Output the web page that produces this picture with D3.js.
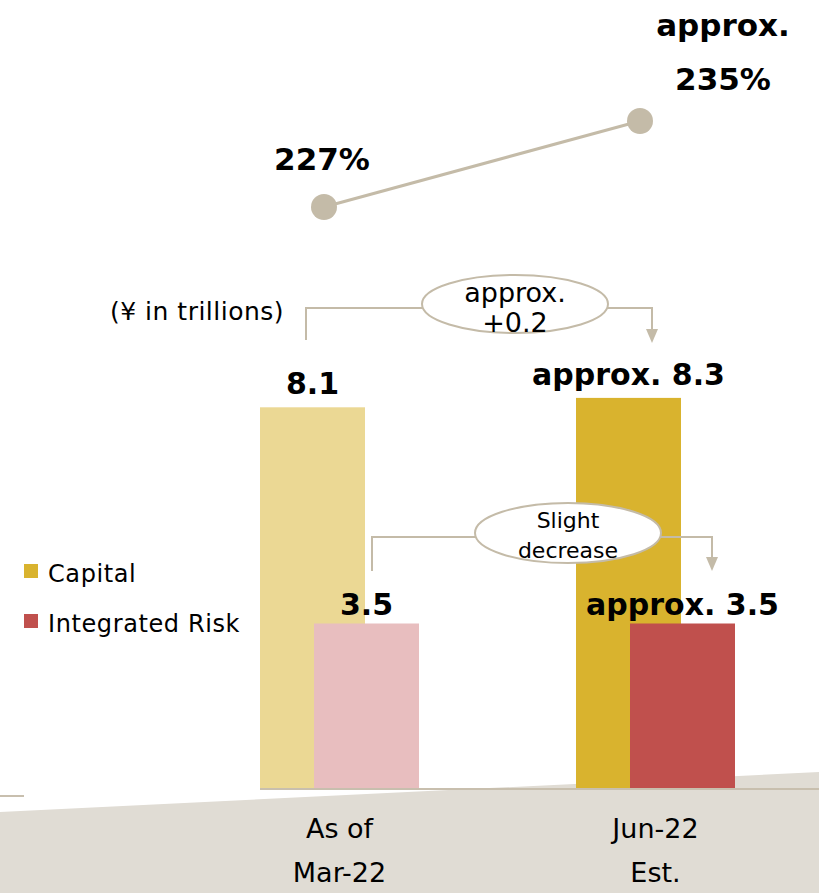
<!DOCTYPE html>
<html>
<head>
<meta charset="utf-8">
<script src="https://cdn.jsdelivr.net/npm/d3@7"></script>
<style>
  body { margin: 0; background: #fff; }
  svg { display: block; font-family: "DejaVu Sans", Verdana, sans-serif; }
</style>
</head>
<body>
<div id="container"></div>
<script>
var width = 819;
var height = 893;

// data
var periods = [["As of", "Mar-22"], ["Jun-22", "Est."]];
var capital = [8.1, 8.3];
var risk = [3.5, 3.5];
var esr = [227, 235];
var capitalLabels = ["8.1", "approx. 8.3"];
var riskLabels = ["3.5", "approx. 3.5"];
var esrLabels = [["227%"], ["approx.", "235%"]];
var capitalColors = ["#ebd894", "#d9b32e"];
var riskColors = ["#e8bebf", "#c0504d"];
var changeNotes = [["approx.", "+0.2"], ["Slight", "decrease"]];

var svg = d3.select('div#container')
  .append('svg')
  .attr('width', width)
  .attr('height', height);

// bottom band
svg.append('polygon')
  .attr('points', "0,812 819,772 819,893 0,893")
  .attr('fill', '#e0dcd4');

var x = d3.scaleBand().domain([0, 1]).range([260, 892]).paddingInner(0).paddingOuter(0);
var barW = 105, riskOff = 54;
var y = d3.scaleLinear().domain([0, 10]).range([788, 318]);
var yEsr = d3.scaleLinear().domain([227, 235]).range([207, 121]);

// baseline
svg.append('line')
  .attr('x1', 260).attr('x2', width).attr('y1', 789).attr('y2', 789)
  .attr('stroke', '#c8bfae').attr('stroke-width', 2);
svg.append('line')
  .attr('x1', 0).attr('x2', 24).attr('y1', 796).attr('y2', 796)
  .attr('stroke', '#c8bfae').attr('stroke-width', 2);

// capital bars
svg.selectAll('rect.cap')
  .data(capital)
  .enter()
  .append('rect')
  .attr('class', 'cap')
  .attr('x', function(d, i){ return x(i); })
  .attr('y', function(d){ return y(d); })
  .attr('width', barW)
  .attr('height', function(d){ return y(0) - y(d); })
  .attr('fill', function(d, i){ return capitalColors[i]; });

// risk bars
svg.selectAll('rect.risk')
  .data(risk)
  .enter()
  .append('rect')
  .attr('class', 'risk')
  .attr('x', function(d, i){ return x(i) + riskOff; })
  .attr('y', function(d){ return y(d); })
  .attr('width', barW)
  .attr('height', function(d){ return y(0) - y(d); })
  .attr('fill', function(d, i){ return riskColors[i]; });

// value labels
svg.selectAll('text.capl')
  .data(capitalLabels)
  .enter()
  .append('text')
  .attr('x', function(d, i){ return x(i) + barW / 2; })
  .attr('y', function(d, i){ return y(capital[i]) - 13; })
  .attr('text-anchor', 'middle')
  .attr('font-weight', 'bold')
  .attr('font-size', 30)
  .text(function(d){ return d; });

svg.selectAll('text.riskl')
  .data(riskLabels)
  .enter()
  .append('text')
  .attr('x', function(d, i){ return x(i) + riskOff + barW / 2; })
  .attr('y', function(d, i){ return y(risk[i]) - 9; })
  .attr('text-anchor', 'middle')
  .attr('font-weight', 'bold')
  .attr('font-size', 30)
  .text(function(d){ return d; });

// ESR line
var esrX = function(i){ return x(i) + 64; };
svg.append('path')
  .datum(esr)
  .attr('d', d3.line().x(function(d, i){ return esrX(i); }).y(function(d){ return yEsr(d); }))
  .attr('stroke', '#c4bba8')
  .attr('stroke-width', 3)
  .attr('fill', 'none');
svg.selectAll('circle.esr')
  .data(esr)
  .enter()
  .append('circle')
  .attr('cx', function(d, i){ return esrX(i); })
  .attr('cy', function(d){ return yEsr(d); })
  .attr('r', 13)
  .attr('fill', '#c4bba8');

var esrLabelDx = [-2, 83];
var esrLabelDy = [-37, -85];
esrLabels.forEach(function(lines, i){
  var t = svg.append('text')
    .attr('text-anchor', 'middle')
    .attr('font-weight', 'bold')
    .attr('font-size', 31);
  lines.forEach(function(l, j){
    t.append('tspan')
      .attr('x', esrX(i) + esrLabelDx[i])
      .attr('y', yEsr(esr[i]) + esrLabelDy[i] + j * 54)
      .text(l);
  });
});

// unit label
svg.append('text')
  .attr('x', 110).attr('y', 320)
  .attr('font-size', 25)
  .attr('letter-spacing', 0.5)
  .text('(\u00a5 in trillions)');

// change brackets
var brackets = [
  { x1: x(0) + 46, x2: x(1) + 76, top: 308, bottom1: 340, bottom2: 343, ex: 515, ey: 304, rx: 93, ry: 29, fs: 27, b0: 302 },
  { x1: x(0) + riskOff + 58, x2: x(1) + riskOff + 82, top: 537, bottom1: 571, bottom2: 571, ex: 568, ey: 533, rx: 93, ry: 30, fs: 22, b0: 528 }
];
brackets.forEach(function(b, i){
  var g = svg.append('g');
  g.append('path')
    .attr('d', 'M' + b.x1 + ',' + b.bottom1 + 'V' + b.top + 'H' + b.x2 + 'V' + (b.bottom2 - 12))
    .attr('stroke', '#c4bba8').attr('stroke-width', 2).attr('fill', 'none');
  g.append('path')
    .attr('d', 'M' + (b.x2 - 6) + ',' + (b.bottom2 - 14) + 'L' + (b.x2 + 6) + ',' + (b.bottom2 - 14) + 'L' + b.x2 + ',' + b.bottom2 + 'Z')
    .attr('fill', '#c4bba8');
  g.append('ellipse')
    .attr('cx', b.ex).attr('cy', b.ey).attr('rx', b.rx).attr('ry', b.ry)
    .attr('fill', '#fff').attr('stroke', '#c4bba8').attr('stroke-width', 2);
  var t = g.append('text').attr('text-anchor', 'middle').attr('font-size', b.fs);
  changeNotes[i].forEach(function(l, j){
    t.append('tspan')
      .attr('x', b.ex)
      .attr('y', b.b0 + j * 30)
      .text(l);
  });
});

// legend
var legend = [["Capital", capitalColors[1]], ["Integrated Risk", riskColors[1]]];
legend.forEach(function(d, i){
  svg.append('rect')
    .attr('x', 24).attr('y', 564 + i * 50)
    .attr('width', 14).attr('height', 14)
    .attr('fill', d[1]);
  svg.append('text')
    .attr('x', 48).attr('y', 582 + i * 50)
    .attr('font-size', 24)
    .attr('letter-spacing', 0.6)
    .text(d[0]);
});

// category labels
periods.forEach(function(lines, i){
  var t = svg.append('text')
    .attr('text-anchor', 'middle')
    .attr('font-size', 27);
  lines.forEach(function(l, j){
    t.append('tspan')
      .attr('x', x(i) + (barW + riskOff) / 2)
      .attr('y', 838 + j * 44)
      .text(l);
  });
});
</script>
</body>
</html>
